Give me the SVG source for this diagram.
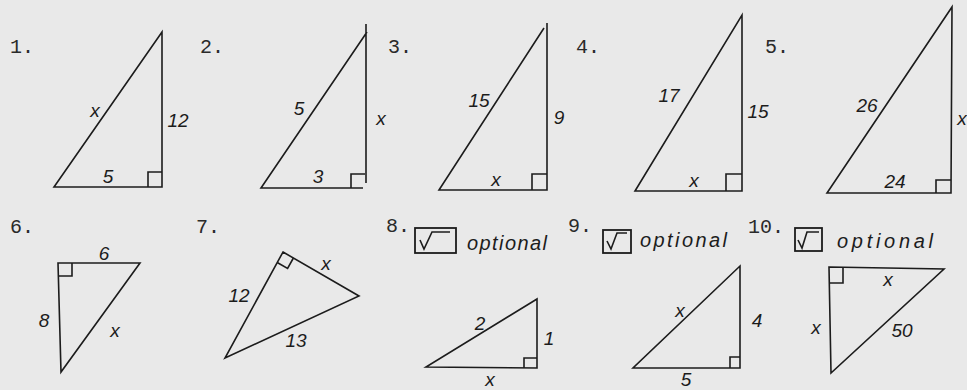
<svg xmlns="http://www.w3.org/2000/svg" width="967" height="390" viewBox="0 0 967 390">
<style>
.bg{fill:#e9e9e9}
.tri{fill:none;stroke:#1c1c1c;stroke-width:1.6;stroke-linejoin:miter}
.ra{fill:none;stroke:#1c1c1c;stroke-width:1.6}
.num{font-family:"Liberation Mono",monospace;font-size:20px;fill:#2a2a2a}
.lbl{font-family:"Liberation Sans",sans-serif;font-style:italic;font-size:19px;fill:#1c1c1c}
.opt{font-family:"Liberation Sans",sans-serif;font-style:italic;font-size:20px;fill:#1c1c1c}
.box{fill:none;stroke:#1c1c1c;stroke-width:1.8}
</style>
<rect class="bg" x="0" y="0" width="967" height="390"/>

<g id="p1">
<text class="num" x="10" y="53">1.</text>
<path class="tri" d="M162 32 L54 187 L162 187 Z"/>
<path class="ra" d="M148 187 V172 H162"/>
<text class="lbl" x="95" y="117" text-anchor="middle">x</text>
<text class="lbl" x="178" y="127" text-anchor="middle" font-size="17">12</text>
<text class="lbl" x="108" y="183" text-anchor="middle" font-size="21">5</text>
</g>

<g id="p2">
<text class="num" x="200" y="53">2.</text>
<path class="tri" d="M366 24 L366 183 M367 32 L261 188 L363 188"/>
<path class="ra" d="M351 188 V174 H365"/>
<text class="lbl" x="299" y="115" text-anchor="middle">5</text>
<text class="lbl" x="381" y="125" text-anchor="middle">x</text>
<text class="lbl" x="318" y="183" text-anchor="middle">3</text>
</g>

<g id="p3">
<text class="num" x="388" y="53">3.</text>
<path class="tri" d="M547 23 L547 190 L439 190 L544 28"/>
<path class="ra" d="M532 190 V174 H547"/>
<text class="lbl" x="479" y="107" text-anchor="middle" font-size="17">15</text>
<text class="lbl" x="559" y="124" text-anchor="middle">9</text>
<text class="lbl" x="496" y="186" text-anchor="middle">x</text>
</g>

<g id="p4">
<text class="num" x="576" y="53">4.</text>
<path class="tri" d="M742 15 L742 191 L635 191 Z"/>
<path class="ra" d="M726 191 V174 H742"/>
<text class="lbl" x="669" y="102" text-anchor="middle" font-size="18">17</text>
<text class="lbl" x="758" y="118" text-anchor="middle" font-size="15">15</text>
<text class="lbl" x="694" y="187" text-anchor="middle">x</text>
</g>

<g id="p5">
<text class="num" x="765" y="53">5.</text>
<path class="tri" d="M952 7 L951 193 L827 193 Z"/>
<path class="ra" d="M936 193 V180 H951"/>
<text class="lbl" x="867" y="112" text-anchor="middle" font-size="17">26</text>
<text class="lbl" x="962" y="125" text-anchor="middle">x</text>
<text class="lbl" x="895" y="188" text-anchor="middle" font-size="17">24</text>
</g>

<g id="p6">
<text class="num" x="10" y="233">6.</text>
<path class="tri" d="M58 263 L140 263 L61 372 Z"/>
<path class="ra" d="M72 263 V276 H58"/>
<text class="lbl" x="104" y="260" text-anchor="middle">6</text>
<text class="lbl" x="44" y="327" text-anchor="middle">8</text>
<text class="lbl" x="115" y="337" text-anchor="middle">x</text>
</g>

<g id="p7">
<text class="num" x="196" y="233">7.</text>
<path class="tri" d="M283 252 L359 296 L225 358 Z"/>
<path class="ra" d="M293.4 258 L287.6 268.5 L277.2 262.5"/>
<text class="lbl" x="239" y="302" text-anchor="middle" font-size="17">12</text>
<text class="lbl" x="326" y="270" text-anchor="middle">x</text>
<text class="lbl" x="296" y="347" text-anchor="middle" font-size="17">13</text>
</g>

<g id="p8">
<text class="num" x="386" y="232">8.</text>
<rect class="box" x="415" y="228" width="41" height="25"/>
<path class="ra" d="M420 240 L424 249 L432 232 H450"/>
<text class="opt" x="467" y="250" font-size="18" textLength="80">optional</text>
<path class="tri" d="M537 299 L537 368 L426 367 Z"/>
<path class="ra" d="M524 368 V358 H537"/>
<text class="lbl" x="480" y="330" text-anchor="middle" font-size="17">2</text>
<text class="lbl" x="549" y="345" text-anchor="middle" font-size="17">1</text>
<text class="lbl" x="490" y="386" text-anchor="middle" font-size="17">x</text>
</g>

<g id="p9">
<text class="num" x="568" y="232">9.</text>
<rect class="box" x="603" y="230" width="28" height="23"/>
<path class="ra" d="M607 241 L611 249 L617 233 H627"/>
<text class="opt" x="640" y="247" textLength="87">optional</text>
<path class="tri" d="M740 266 L740 368 L633 368 Z"/>
<path class="ra" d="M730 368 V357 H740"/>
<text class="lbl" x="680" y="317" text-anchor="middle">x</text>
<text class="lbl" x="757" y="327" text-anchor="middle">4</text>
<text class="lbl" x="686" y="386" text-anchor="middle" font-size="17">5</text>
</g>

<g id="p10">
<text class="num" x="748" y="233">10.</text>
<rect class="box" x="795" y="228" width="27" height="23"/>
<path class="ra" d="M798 240 L802 248 L807 232 H819"/>
<text class="opt" x="837" y="248" textLength="96">optional</text>
<path class="tri" d="M829 267 L944 269 L831 373 Z"/>
<path class="ra" d="M843 267 V283 H829"/>
<text class="lbl" x="888" y="286" text-anchor="middle">x</text>
<text class="lbl" x="816" y="334" text-anchor="middle">x</text>
<text class="lbl" x="902" y="337" text-anchor="middle" font-size="17">50</text>
</g>
</svg>
